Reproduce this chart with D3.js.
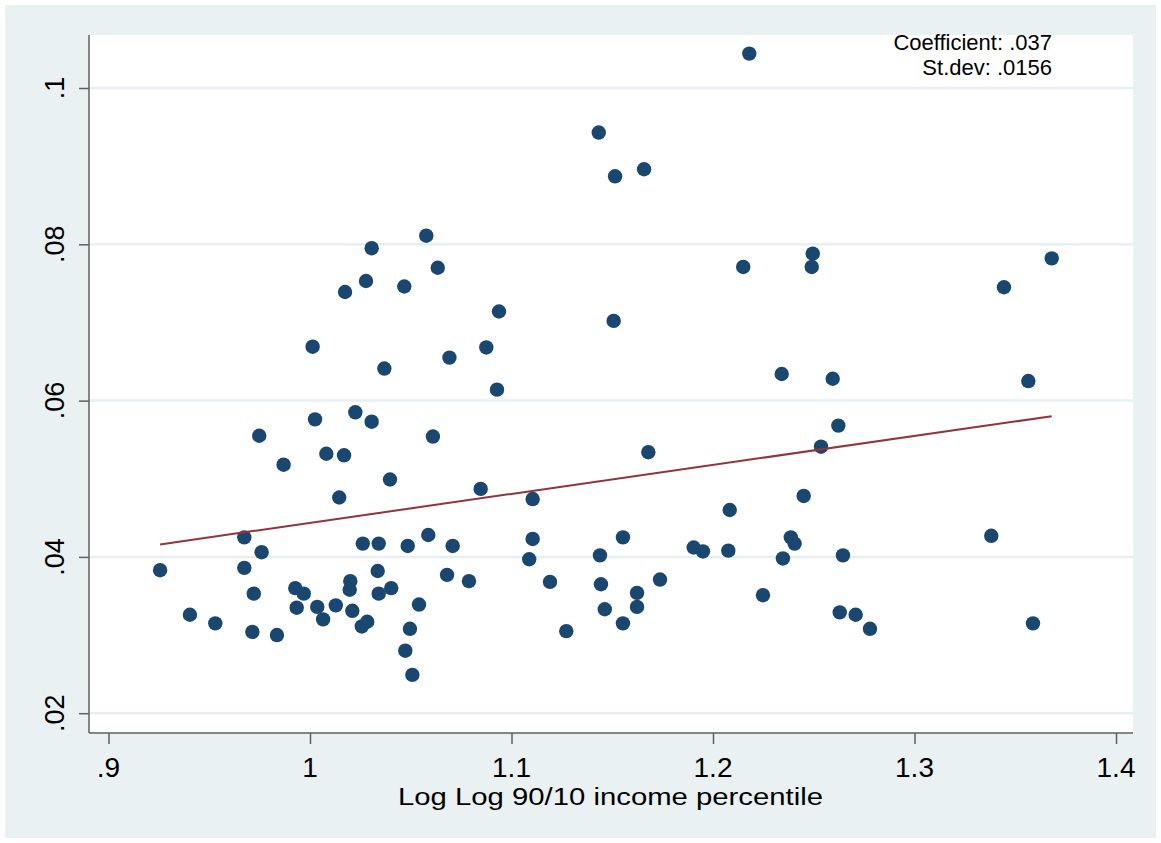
<!DOCTYPE html>
<html>
<head>
<meta charset="utf-8">
<script src="https://d3js.org/d3.v7.min.js"></script>
<style>
  body { margin: 0; background: #ffffff; }
  text { font-family: "Liberation Sans", Arial, sans-serif; fill: #000; }
</style>
</head>
<body>
<div id="chart"></div>
<script>
// data
var incomeX = [
  .9256, .9404, .9530, .9674, .9674, .9714, .9721, .9748, .9760, .9836,
  .9869, .9927, .9934, .9969, 1.0013, 1.0025, 1.0036, 1.0065, 1.0081, 1.0128,
  1.0145, 1.0169, 1.0174, 1.0200, 1.0197, 1.0210, 1.0225, 1.0262, 1.0257, 1.0278,
  1.0284, 1.0306, 1.0306, 1.0341, 1.0336, 1.0341, 1.0369, 1.0397, 1.0403, 1.0468,
  1.0473, 1.0485, 1.0496, 1.0508, 1.0541, 1.0577, 1.0587, 1.0610, 1.0634, 1.0680,
  1.0692, 1.0708, 1.0789, 1.0847, 1.0875, 1.0928, 1.0938, 1.1088, 1.1105, 1.1105,
  1.1191, 1.1272, 1.1433, 1.1439, 1.1444, 1.1463, 1.1507, 1.1514, 1.1553, 1.1553,
  1.1623, 1.1623, 1.1658, 1.1679, 1.1737, 1.1904, 1.1950, 1.2076, 1.2083, 1.2150,
  1.2180, 1.2248, 1.2347, 1.2341, 1.2386, 1.2405, 1.2450, 1.2495, 1.2490, 1.2536,
  1.2594, 1.2622, 1.2629, 1.2645, 1.2708, 1.2779, 1.3381, 1.3444, 1.3588, 1.3565,
  1.3681
];
var outcomeY = [
  .0383, .0326, .0315, .0425, .0386, .0304, .0353, .0555, .0406, .0300,
  .0518, .0360, .0335, .0353, .0669, .0576, .0336, .0320, .0532, .0338,
  .0476, .0530, .0739, .0369, .0358, .0331, .0585, .0417, .0311, .0753,
  .0317, .0795, .0573, .0417, .0382, .0353, .0641, .0499, .0360, .0746,
  .0280, .0414, .0308, .0249, .0339, .0811, .0428, .0554, .0770, .0377,
  .0655, .0414, .0369, .0487, .0668, .0614, .0714, .0397, .0474, .0423,
  .0368, .0305, .0943, .0402, .0365, .0333, .0702, .0887, .0425, .0315,
  .0354, .0336, .0896, .0534, .0371, .0412, .0407, .0408, .0460, .0771,
  .1044, .0351, .0398, .0634, .0425, .0417, .0478, .0788, .0771, .0541,
  .0628, .0568, .0329, .0402, .0326, .0308, .0427, .0745, .0315, .0625,
  .0782
];
// fitted line end points
var fitX = [.9256, 1.3681];
var fitY = [.0416, .0580];

var xTicks = [.9, 1, 1.1, 1.2, 1.3, 1.4];
var xTickLabels = [".9", "1", "1.1", "1.2", "1.3", "1.4"];
var yTicks = [.02, .04, .06, .08, .1];
var yTickLabels = [".02", ".04", ".06", ".08", ".1"];
var statLines = ["Coefficient: .037", "St.dev: .0156"];
var xTitle = "Log Log 90/10 income percentile";

var W = 1161, H = 843;
var plot = {left: 89, right: 1133, top: 35, bottom: 733};

var svg = d3.select("#chart")
  .append("svg")
    .attr("width", W)
    .attr("height", H);

// outer graph region
svg.append("rect")
  .attr("x", 5).attr("y", 5)
  .attr("width", W - 10).attr("height", H - 10)
  .attr("fill", "#e9f1f3");

// plot region
svg.append("rect")
  .attr("x", plot.left).attr("y", plot.top)
  .attr("width", plot.right - plot.left)
  .attr("height", plot.bottom - plot.top)
  .attr("fill", "#ffffff");

var x = d3.scaleLinear()
  .domain([.9, 1.4])
  .range([108.5, 1116]);

var y = d3.scaleLinear()
  .domain([.02, .1])
  .range([713.2, 88]);

// grid lines
svg.append("g")
  .selectAll("line")
  .data(yTicks)
  .enter()
  .append("line")
    .attr("x1", plot.left)
    .attr("x2", plot.right)
    .attr("y1", d => y(d))
    .attr("y2", d => y(d))
    .attr("stroke", "#e6eff1")
    .attr("stroke-width", 2.5);

// y axis
var yAxis = svg.append("g")
  .attr("transform", "translate(" + plot.left + ",0)")
  .call(d3.axisLeft(y).tickValues(yTicks).tickSize(10).tickFormat(""));
yAxis.select(".domain").remove();
yAxis.selectAll(".tick line").attr("stroke", "#5f5f5f").attr("stroke-width", 1.5);

svg.append("line")
  .attr("x1", plot.left).attr("x2", plot.left)
  .attr("y1", plot.top).attr("y2", plot.bottom)
  .attr("stroke", "#5f5f5f")
  .attr("stroke-width", 1.5);

svg.append("g")
  .selectAll("text")
  .data(yTicks)
  .enter()
  .append("text")
    .attr("transform", (d) => "translate(64," + y(d) + ") rotate(-90)")
    .style("text-anchor", "middle")
    .style("font-size", "27px")
    .text((d, i) => yTickLabels[i]);

// x axis
var xAxis = svg.append("g")
  .attr("transform", "translate(0," + plot.bottom + ")")
  .call(d3.axisBottom(x).tickValues(xTicks).tickSize(11).tickFormat(""));
xAxis.select(".domain").remove();
xAxis.selectAll(".tick line").attr("stroke", "#5f5f5f").attr("stroke-width", 1.5);

svg.append("line")
  .attr("x1", plot.left).attr("x2", plot.right)
  .attr("y1", plot.bottom).attr("y2", plot.bottom)
  .attr("stroke", "#5f5f5f")
  .attr("stroke-width", 1.5);

svg.append("g")
  .selectAll("text")
  .data(xTicks)
  .enter()
  .append("text")
    .attr("x", d => x(d))
    .attr("y", 777)
    .style("text-anchor", "middle")
    .style("font-size", "28px")
    .text((d, i) => xTickLabels[i]);

// axis title
svg.append("text")
  .attr("x", 610.5)
  .attr("y", 805)
  .style("text-anchor", "middle")
  .style("font-size", "23px")
  .attr("textLength", 425)
  .attr("lengthAdjust", "spacingAndGlyphs")
  .text(xTitle);

// points
var points = incomeX.map((v, i) => ({x: v, y: outcomeY[i]}));
svg.append("g")
  .selectAll("circle")
  .data(points)
  .enter()
  .append("circle")
    .attr("cx", d => x(d.x))
    .attr("cy", d => y(d.y))
    .attr("r", 7.2)
    .attr("fill", "#1a476f");

// fitted line
svg.append("path")
  .datum(fitX.map((v, i) => [v, fitY[i]]))
  .attr("fill", "none")
  .attr("stroke", "#90353b")
  .attr("stroke-width", 2)
  .attr("d", d3.line()
    .x(d => x(d[0]))
    .y(d => y(d[1])));

// coefficient note
svg.append("g")
  .selectAll("text")
  .data(statLines)
  .enter()
  .append("text")
    .attr("x", 1052)
    .attr("y", (d, i) => 49.5 + i * 25.8)
    .style("text-anchor", "end")
    .style("font-size", "22px")
    .text(d => d);
</script>
</body>
</html>
